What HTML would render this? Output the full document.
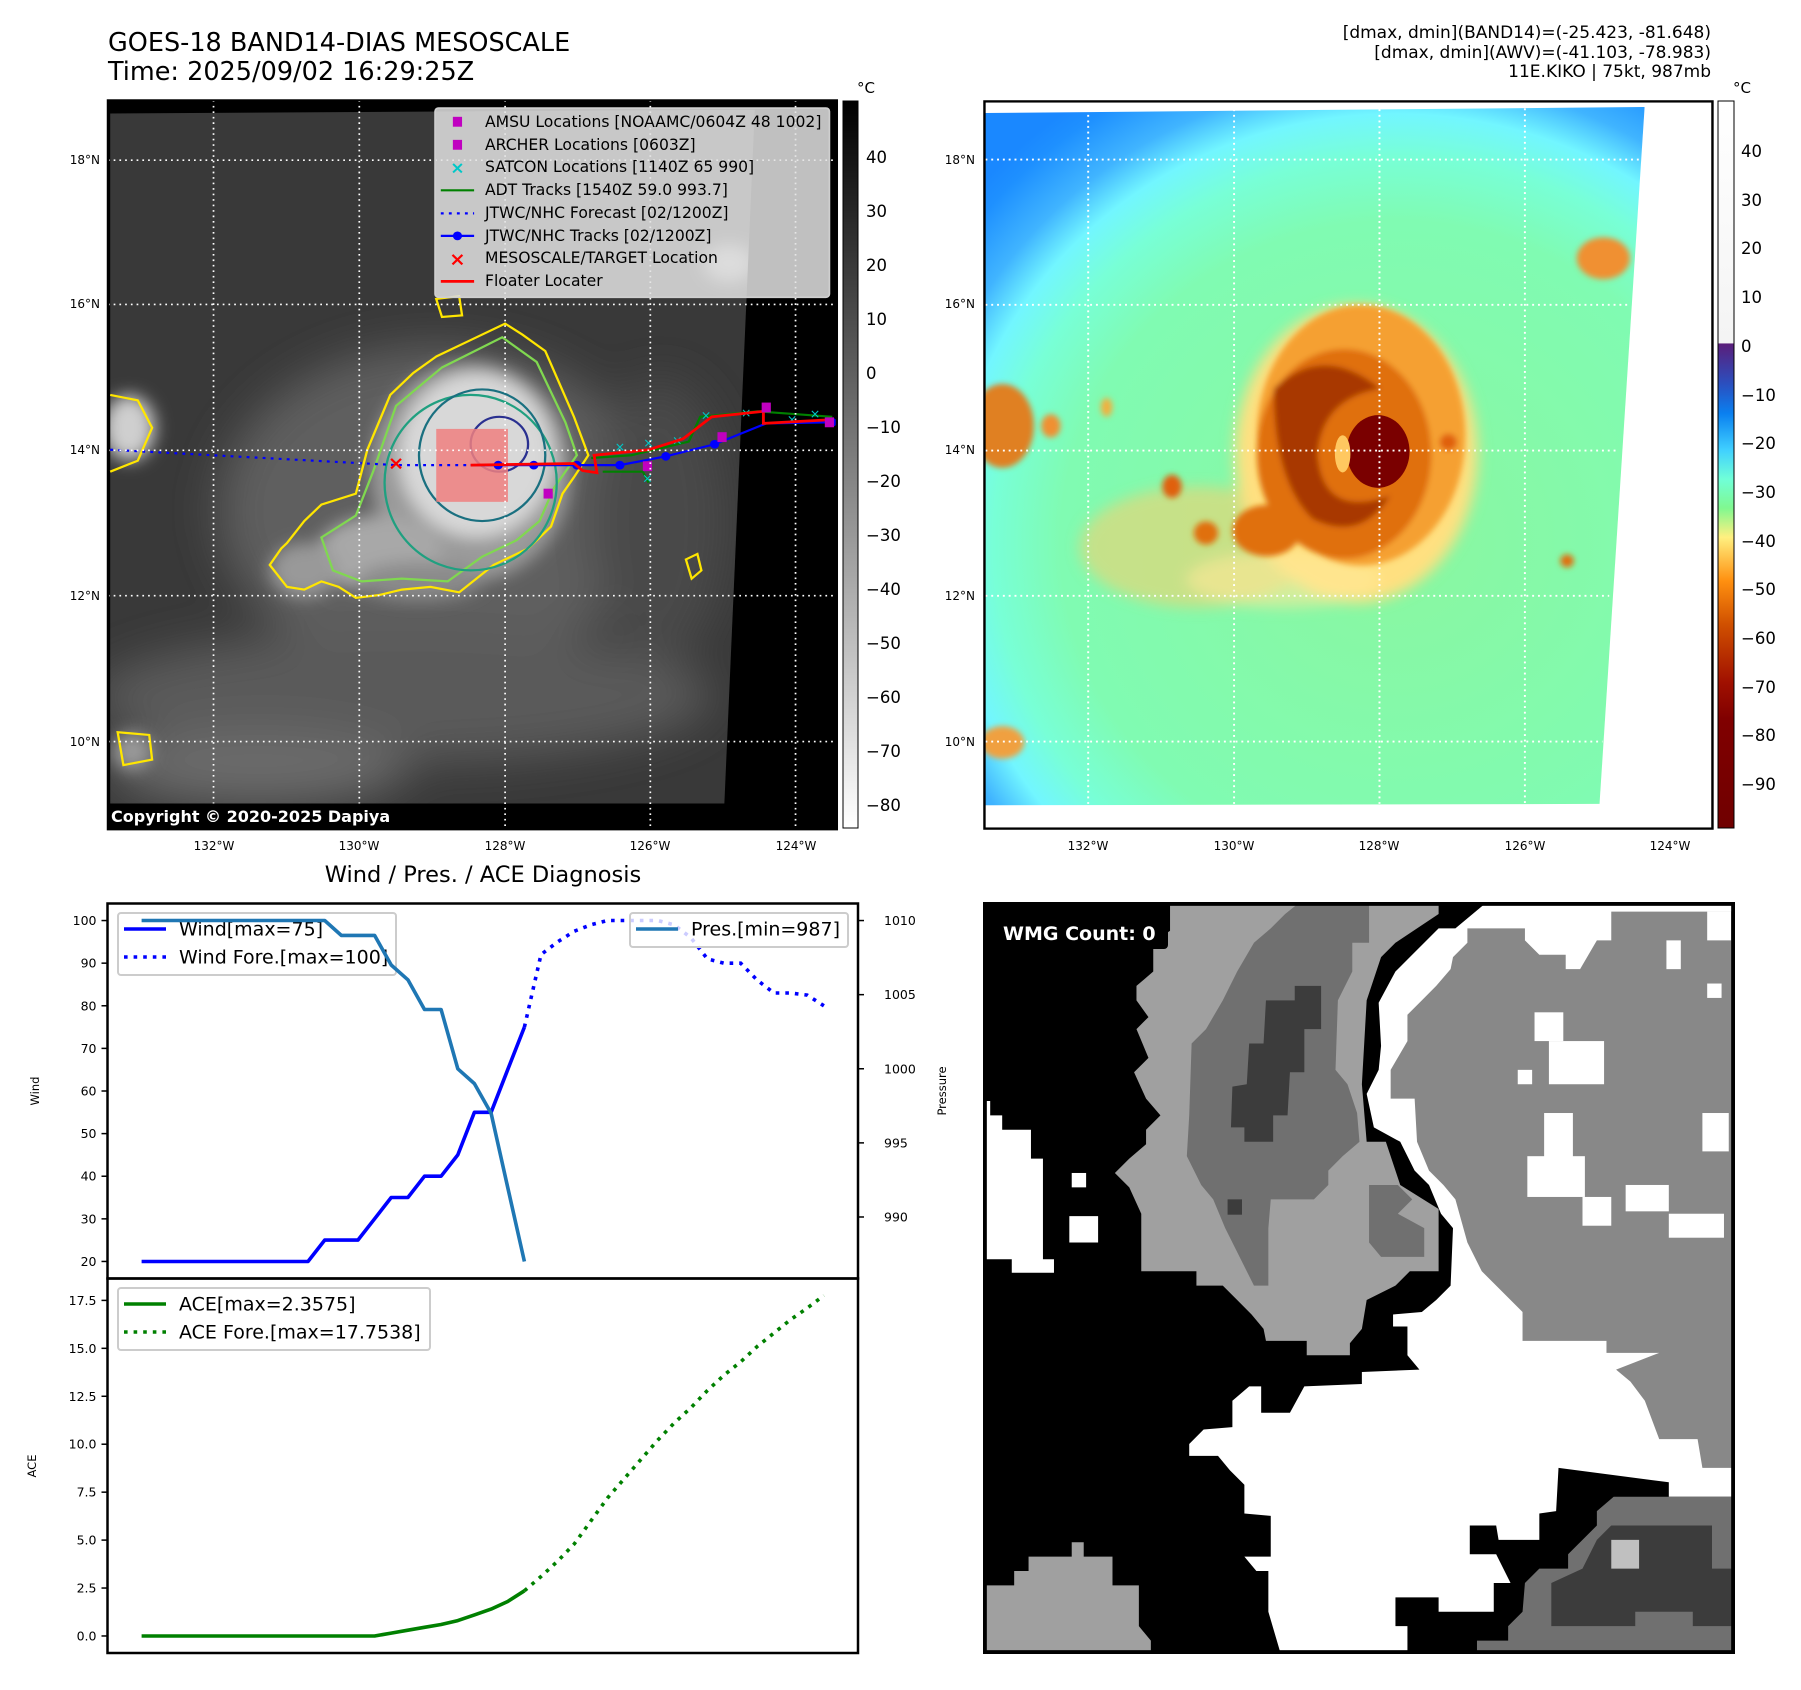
<!DOCTYPE html>
<html><head><meta charset="utf-8"><title>GOES-18 BAND14 mesoscale imagery and wind, pressure and ACE diagnosis</title>
<style>
html,body{margin:0;padding:0;background:#fff;}
svg{display:block;font-family:"DejaVu Sans","Liberation Sans",sans-serif;}
</style></head>
<body>
<svg id="root" width="1801" height="1690" viewBox="0 0 1801 1690" xmlns="http://www.w3.org/2000/svg">
<defs>
  <filter id="b40" x="-50%" y="-50%" width="200%" height="200%"><feGaussianBlur stdDeviation="40"/></filter>
  <filter id="b15" x="-50%" y="-50%" width="200%" height="200%"><feGaussianBlur stdDeviation="15"/></filter>
  <filter id="b6" x="-50%" y="-50%" width="200%" height="200%"><feGaussianBlur stdDeviation="6"/></filter>
  <clipPath id="clipL"><rect x="188" y="183" width="1270" height="1329"/></clipPath>
  <clipPath id="clipLS"><polygon points="192,207 1315,200 1262,1465 192,1465"/></clipPath>
  <clipPath id="clipR"><polygon points="5,28 1365,15 1272,1512 5,1515"/></clipPath>
  <radialGradient id="bgR" gradientUnits="userSpaceOnUse" cx="850" cy="950" r="1150">
    <stop offset="0" stop-color="#8af7a0"/>
    <stop offset="0.6" stop-color="#80fbb2"/>
    <stop offset="0.72" stop-color="#78ffd6"/>
    <stop offset="0.8" stop-color="#72f6ff"/>
    <stop offset="0.87" stop-color="#40b4ff"/>
    <stop offset="0.96" stop-color="#1e90ff"/>
    <stop offset="1" stop-color="#1a88ff"/>
  </radialGradient>
  <linearGradient id="cbL" x1="0" y1="0" x2="0" y2="1">
    <stop offset="0" stop-color="#000"/><stop offset="1" stop-color="#fff"/>
  </linearGradient>
  <linearGradient id="cbR" x1="0" y1="0" x2="0" y2="1">
    <stop offset="0" stop-color="#ffffff"/>
    <stop offset="0.333" stop-color="#f4f4f4"/>
    <stop offset="0.334" stop-color="#5a1e7a"/>
    <stop offset="0.39" stop-color="#2a50c0"/>
    <stop offset="0.43" stop-color="#0a80f0"/>
    <stop offset="0.48" stop-color="#40d0ff"/>
    <stop offset="0.52" stop-color="#70ffd8"/>
    <stop offset="0.56" stop-color="#80f890"/>
    <stop offset="0.6" stop-color="#fff080"/>
    <stop offset="0.66" stop-color="#ff9010"/>
    <stop offset="0.72" stop-color="#d05000"/>
    <stop offset="0.8" stop-color="#a01000"/>
    <stop offset="0.85" stop-color="#800000"/>
    <stop offset="1" stop-color="#700000"/>
  </linearGradient>
</defs>

<!-- Titles -->
<text x="108" y="51" font-size="25.5">GOES-18 BAND14-DIAS MESOSCALE</text>
<text x="108" y="80" font-size="25.5">Time: 2025/09/02 16:29:25Z</text>
<g font-size="17" text-anchor="end">
  <text x="1711" y="38">[dmax, dmin](BAND14)=(-25.423, -81.648)</text>
  <text x="1711" y="58">[dmax, dmin](AWV)=(-41.103, -78.983)</text>
  <text x="1711" y="77">11E.KIKO | 75kt, 987mb</text>
</g>

<!-- LEFT MAP (zoom coords) -->
<svg x="0" y="0" width="900" height="860" viewBox="0 0 1568 1568" preserveAspectRatio="none">
  <rect x="188" y="183" width="1270" height="1329" fill="#000"/>
  <g clip-path="url(#clipL)">
    <polygon points="192,207 1315,200 1262,1465 192,1465" fill="#393939"/>
    <g clip-path="url(#clipLS)">
      <g filter="url(#b40)">
        <ellipse cx="760" cy="930" rx="380" ry="300" fill="#5e5e5e"/>
        <ellipse cx="700" cy="1270" rx="540" ry="120" fill="#5a5a5a"/>
        <ellipse cx="450" cy="1400" rx="260" ry="70" fill="#6a6a6a"/>
        <ellipse cx="1150" cy="950" rx="120" ry="260" fill="#4a4a4a"/>
      </g>
      <g filter="url(#b15)">
        <ellipse cx="820" cy="860" rx="175" ry="200" fill="#9a9a9a"/>
        <ellipse cx="830" cy="830" rx="135" ry="150" fill="#d8d8d8"/>
        <ellipse cx="660" cy="1010" rx="110" ry="70" fill="#a8a8a8"/>
        <ellipse cx="530" cy="1040" rx="60" ry="50" fill="#999"/>
        <ellipse cx="730" cy="1060" rx="110" ry="35" fill="#8a8a8a"/>
        <ellipse cx="225" cy="780" rx="45" ry="60" fill="#cfcfcf"/>
        <ellipse cx="1270" cy="480" rx="45" ry="35" fill="#bbb"/>
        <ellipse cx="230" cy="1370" rx="35" ry="35" fill="#999"/>
      </g>
    </g>
    <!-- contours -->
    <path d="M760,650 L820,620 L880,590 L910,610 L950,640 L975,700 L1000,760 L1025,830 L1000,870 L980,900 L960,960 L920,1000 L860,1030 L800,1080 L750,1070 L700,1075 L660,1085 L620,1090 L590,1070 L560,1060 L530,1075 L500,1070 L470,1030 L490,1000 L500,990 L530,950 L560,920 L620,900 L630,860 L640,820 L660,770 L680,720 L720,680 Z" fill="none" stroke="#ffe600" stroke-width="4"/>
    <path d="M770,670 L875,615 L935,660 L985,770 L1005,830 L965,890 L940,950 L900,985 L840,1015 L780,1060 L700,1055 L630,1060 L580,1040 L560,980 L620,940 L650,860 L690,740 Z" fill="none" stroke="#80d850" stroke-width="4"/>
    <ellipse cx="820" cy="880" rx="150" ry="160" fill="none" stroke="#20a080" stroke-width="4"/>
    <ellipse cx="840" cy="830" rx="110" ry="120" fill="none" stroke="#1a7080" stroke-width="4"/>
    <ellipse cx="870" cy="810" rx="50" ry="50" fill="none" stroke="#2a3090" stroke-width="4"/>
    <path d="M192,720 L240,730 L265,780 L240,840 L192,860" fill="none" stroke="#ffe600" stroke-width="4"/>
    <path d="M1195,1020 L1215,1010 L1222,1040 L1205,1055 Z" fill="none" stroke="#ffe600" stroke-width="4"/>
    <path d="M760,545 L800,540 L805,575 L770,578 Z" fill="none" stroke="#ffe600" stroke-width="4"/>
    <path d="M205,1335 L260,1340 L265,1385 L215,1395 Z" fill="none" stroke="#ffe600" stroke-width="4"/>
    <!-- pink target box -->
    <rect x="760" y="782" width="125" height="133" fill="#f08080" opacity="0.85"/>
    <!-- tracks -->
    <polyline points="192,820 690,848 820,848" fill="none" stroke="#0000ff" stroke-width="4" stroke-dasharray="5 9"/>
    <polyline points="1030,835 1100,830 1200,805 1220,760 1320,750 1450,760" fill="none" stroke="#008000" stroke-width="4"/>
    <polyline points="1050,860 1120,860 1130,880" fill="none" stroke="#008000" stroke-width="4"/>
    <g fill="#00c8c8" font-size="22" text-anchor="middle">
      <text x="1080" y="822">×</text><text x="1130" y="815">×</text><text x="1180" y="810">×</text><text x="1230" y="765">×</text><text x="1300" y="760">×</text><text x="1380" y="772">×</text><text x="1420" y="762">×</text><text x="1128" y="880">×</text>
    </g>
    <polyline points="820,848 1005,848 1080,848 1160,832 1245,810 1335,772 1450,770" fill="none" stroke="#0000ff" stroke-width="4"/>
    <g fill="#0000ff"><circle cx="930" cy="848" r="8"/><circle cx="1005" cy="848" r="8"/><circle cx="1080" cy="848" r="8"/><circle cx="1160" cy="832" r="8"/><circle cx="1245" cy="810" r="8"/><circle cx="1450" cy="770" r="8"/><circle cx="868" cy="848" r="8"/></g>
    <polyline points="820,848 1000,845 1015,858 1040,862 1035,830 1130,820 1190,800 1240,760 1330,750 1330,772 1450,765" fill="none" stroke="#ff0000" stroke-width="5"/>
    <g fill="#c000c0"><rect x="947" y="891" width="16" height="18"/><rect x="1120" y="841" width="16" height="18"/><rect x="1250" y="788" width="16" height="18"/><rect x="1327" y="734" width="16" height="18"/><rect x="1437" y="761" width="16" height="18"/></g>
    <text x="690" y="856" fill="#ff0000" font-size="34" font-weight="bold" text-anchor="middle">×</text>
    <!-- grid -->
    <g stroke="#fff" stroke-width="3" stroke-dasharray="3 7">
      <line x1="372" y1="183" x2="372" y2="1512"/><line x1="626" y1="183" x2="626" y2="1512"/><line x1="880" y1="183" x2="880" y2="1512"/><line x1="1133" y1="183" x2="1133" y2="1512"/><line x1="1386" y1="183" x2="1386" y2="1512"/>
      <line x1="188" y1="292" x2="1458" y2="292"/><line x1="188" y1="555" x2="1458" y2="555"/><line x1="188" y1="821" x2="1458" y2="821"/><line x1="188" y1="1086" x2="1458" y2="1086"/><line x1="188" y1="1352" x2="1458" y2="1352"/>
    </g>
    <rect x="188" y="1465" width="537" height="47" fill="#000"/>
    <!-- legend box -->
    <rect x="758" y="197" width="687" height="345" rx="6" fill="#e2e2e2" fill-opacity="0.85" stroke="#cfcfcf" stroke-width="3"/>
    <rect x="789" y="213" width="16" height="18" fill="#c000c0"/>
    <rect x="789" y="255" width="16" height="18" fill="#c000c0"/>
    <text x="797" y="316" fill="#00c8c8" font-size="30" font-weight="bold" text-anchor="middle">×</text>
    <line x1="768" y1="347" x2="826" y2="347" stroke="#008000" stroke-width="4"/>
    <line x1="768" y1="389" x2="826" y2="389" stroke="#0000ff" stroke-width="4" stroke-dasharray="5 9"/>
    <line x1="768" y1="430" x2="826" y2="430" stroke="#0000ff" stroke-width="4"/><circle cx="797" cy="430" r="8" fill="#0000ff"/>
    <text x="797" y="484" fill="#ff0000" font-size="34" font-weight="bold" text-anchor="middle">×</text>
    <line x1="768" y1="513" x2="826" y2="513" stroke="#ff0000" stroke-width="5"/>
  </g>
  <rect x="188" y="183" width="1270" height="1329" fill="none" stroke="#000" stroke-width="4"/>
</svg>
<g font-size="15.6">
  <text x="485" y="127">AMSU Locations [NOAAMC/0604Z 48 1002]</text>
  <text x="485" y="150">ARCHER Locations [0603Z]</text>
  <text x="485" y="172">SATCON Locations [1140Z 65 990]</text>
  <text x="485" y="195">ADT Tracks [1540Z 59.0 993.7]</text>
  <text x="485" y="218">JTWC/NHC Forecast [02/1200Z]</text>
  <text x="485" y="241">JTWC/NHC Tracks [02/1200Z]</text>
  <text x="485" y="263">MESOSCALE/TARGET Location</text>
  <text x="485" y="286">Floater Locater</text>
</g>
<text x="111" y="822" fill="#fff" font-size="16" font-weight="bold">Copyright © 2020-2025 Dapiya</text>
<g font-size="12" text-anchor="end">
  <text x="100" y="164">18°N</text><text x="100" y="308">16°N</text><text x="100" y="454">14°N</text><text x="100" y="600">12°N</text><text x="100" y="746">10°N</text>
</g>
<g font-size="12" text-anchor="middle">
  <text x="214" y="850">132°W</text><text x="359" y="850">130°W</text><text x="505" y="850">128°W</text><text x="650" y="850">126°W</text><text x="796" y="850">124°W</text>
</g>
<!-- left colorbar -->
<rect x="843" y="101" width="15" height="727" fill="url(#cbL)" stroke="#000" stroke-width="1"/>
<text x="857" y="93" font-size="15">°C</text>
<g font-size="16.5">
  <text x="866" y="163">40</text><text x="866" y="217">30</text><text x="866" y="271">20</text><text x="866" y="325">10</text><text x="866" y="379">0</text><text x="866" y="433">−10</text><text x="866" y="487">−20</text><text x="866" y="541">−30</text><text x="866" y="595">−40</text><text x="866" y="649">−50</text><text x="866" y="703">−60</text><text x="866" y="757">−70</text><text x="866" y="811">−80</text>
</g>

<!-- RIGHT MAP (zoom coords) -->
<svg x="983" y="100" width="760" height="730" viewBox="0 0 1568 1568" preserveAspectRatio="none">
  <g clip-path="url(#clipR)">
    <rect x="0" y="0" width="1568" height="1568" fill="url(#bgR)"/>
    <g filter="url(#b15)">
      <ellipse cx="440" cy="960" rx="240" ry="130" fill="#f4d070" opacity="0.6"/>
      <ellipse cx="770" cy="760" rx="250" ry="320" fill="#ffe080"/>
      <ellipse cx="620" cy="1030" rx="200" ry="60" fill="#ffe898" opacity="0.6"/>
    </g>
    <g filter="url(#b6)">
      <ellipse cx="780" cy="720" rx="215" ry="280" fill="#f5a030"/>
      <ellipse cx="745" cy="760" rx="180" ry="225" fill="#e07010"/>
      <path d="M600,620 Q700,520 820,620 Q700,640 690,760 Q700,900 840,850 Q780,950 680,900 Q600,820 600,620 Z" fill="#a83800"/>
      <ellipse cx="585" cy="925" rx="70" ry="55" fill="#e07010"/>
      <ellipse cx="40" cy="700" rx="65" ry="90" fill="#e08020"/>
      <ellipse cx="1280" cy="340" rx="55" ry="45" fill="#f09030"/>
      <ellipse cx="1205" cy="990" rx="14" ry="14" fill="#e07010"/>
      <ellipse cx="390" cy="830" rx="20" ry="25" fill="#e06010"/>
      <ellipse cx="460" cy="930" rx="25" ry="25" fill="#e07010"/>
      <ellipse cx="140" cy="700" rx="20" ry="25" fill="#f09030"/>
      <ellipse cx="255" cy="660" rx="12" ry="20" fill="#f0b040"/>
      <ellipse cx="40" cy="1380" rx="45" ry="35" fill="#f0a040"/>
      <ellipse cx="960" cy="735" rx="18" ry="18" fill="#e06010"/>
    </g>
    <ellipse cx="815" cy="755" rx="65" ry="78" fill="#7a0000"/>
    <ellipse cx="742" cy="760" rx="16" ry="40" fill="#ffc860"/>
  </g>
  <g stroke="#fff" stroke-width="4" stroke-dasharray="4 8">
    <line x1="217" y1="20" x2="217" y2="1515"/><line x1="518" y1="20" x2="518" y2="1515"/><line x1="818" y1="20" x2="818" y2="1515"/><line x1="1118" y1="18" x2="1118" y2="1515"/>
    <line x1="5" y1="128" x2="1355" y2="128"/><line x1="5" y1="440" x2="1335" y2="440"/><line x1="5" y1="753" x2="1310" y2="753"/><line x1="5" y1="1065" x2="1292" y2="1065"/><line x1="5" y1="1378" x2="1278" y2="1378"/>
  </g>
  <rect x="3" y="3" width="1502" height="1562" fill="none" stroke="#000" stroke-width="5"/>
</svg>
<g font-size="12" text-anchor="end">
  <text x="975" y="164">18°N</text><text x="975" y="308">16°N</text><text x="975" y="454">14°N</text><text x="975" y="600">12°N</text><text x="975" y="746">10°N</text>
</g>
<g font-size="12" text-anchor="middle">
  <text x="1088" y="850">132°W</text><text x="1234" y="850">130°W</text><text x="1379" y="850">128°W</text><text x="1525" y="850">126°W</text><text x="1670" y="850">124°W</text>
</g>
<rect x="1718" y="101" width="16" height="727" fill="url(#cbR)" stroke="#000" stroke-width="1"/>
<text x="1733" y="93" font-size="15">°C</text>
<g font-size="16.5">
  <text x="1741" y="157">40</text><text x="1741" y="206">30</text><text x="1741" y="254">20</text><text x="1741" y="303">10</text><text x="1741" y="352">0</text><text x="1741" y="401">−10</text><text x="1741" y="449">−20</text><text x="1741" y="498">−30</text><text x="1741" y="547">−40</text><text x="1741" y="595">−50</text><text x="1741" y="644">−60</text><text x="1741" y="693">−70</text><text x="1741" y="741">−80</text><text x="1741" y="790">−90</text>
</g>

<!-- WMG PANEL -->
<svg x="983" y="902" width="752" height="752" viewBox="0 0 1568 1568" preserveAspectRatio="none">
  <rect x="0" y="0" width="1568" height="1568" fill="#000"/>
  <polygon fill="#fff" points="985,55 1045,5 1565,5 1565,1240 1430,1240 1430,1210 1200,1180 1195,1270 1160,1275 1160,1330 1075,1330 1070,1300 1015,1300 1015,1360 1070,1360 1100,1420 1065,1420 1065,1480 950,1480 950,1450 860,1450 860,1510 885,1510 885,1565 620,1565 595,1480 595,1395 570,1395 545,1365 600,1365 600,1280 545,1275 545,1215 515,1185 490,1155 430,1155 430,1130 460,1100 520,1095 520,1040 555,1010 580,1010 580,1065 640,1065 670,1010 790,1005 790,980 910,975 885,945 885,885 855,885 855,860 915,855 945,830 975,800 980,680 955,650 930,590 900,560 870,500 815,470 800,400 825,350 830,300 825,210 860,145 890,115 920,85 950,55"/>
  <polygon fill="#888" points="1010,55 1130,55 1130,80 1160,110 1215,110 1215,140 1245,140 1280,80 1310,80 1310,20 1565,20 1565,1180 1500,1180 1490,1120 1410,1120 1380,1040 1350,1000 1320,975 1410,940 1300,940 1300,915 1125,915 1125,855 1070,800 1040,770 1010,710 985,620 960,590 930,560 905,500 900,410 850,410 850,350 885,290 885,235 915,205 945,175 975,140 980,115 1010,85"/>
  <g fill="#fff"><rect x="1150" y="230" width="60" height="60"/><rect x="1180" y="290" width="115" height="90"/><rect x="1170" y="440" width="60" height="120"/><rect x="1135" y="530" width="120" height="85"/><rect x="1115" y="350" width="30" height="30"/><rect x="1425" y="80" width="30" height="60"/><rect x="1510" y="20" width="50" height="60"/><rect x="1500" y="440" width="55" height="80"/><rect x="1340" y="590" width="90" height="55"/><rect x="1430" y="650" width="115" height="50"/><rect x="1510" y="170" width="30" height="30"/><rect x="1250" y="615" width="60" height="60"/></g>
  <polygon fill="#a0a0a0" points="390,5 950,5 950,25 860,85 830,115 800,205 790,380 800,500 840,500 870,590 950,640 950,770 890,770 860,800 800,830 790,890 765,920 765,945 675,945 675,915 590,915 585,890 560,860 530,830 500,800 445,800 445,770 330,770 330,650 305,595 275,565 305,535 340,505 340,475 370,445 340,410 315,355 345,325 320,265 345,240 320,205 320,175 355,145 355,85 390,60"/>
  <polygon fill="#707070" points="655,5 805,5 805,85 770,85 770,145 740,205 735,350 760,380 780,440 785,500 750,530 720,560 720,590 690,620 600,620 595,680 595,800 565,800 535,740 505,680 480,620 455,590 425,530 430,445 435,295 465,265 500,205 530,145 565,85 600,55 630,25"/>
  <polygon fill="#3c3c3c" points="650,175 705,175 705,265 670,265 670,355 640,355 635,445 605,445 605,500 545,500 545,470 517,470 520,385 550,380 555,295 585,295 590,205 650,205"/>
  <polygon fill="#707070" points="805,590 865,590 895,620 865,650 920,680 920,740 830,740 805,710"/>
  <rect x="510" y="620" width="30" height="32" fill="#3c3c3c"/>
  <polygon fill="#fff" points="5,415 15,415 15,445 40,445 40,475 100,475 100,535 125,535 125,745 148,745 148,773 60,773 60,745 5,745"/>
  <rect x="185" y="565" width="30" height="30" fill="#fff"/><rect x="180" y="655" width="60" height="55" fill="#fff"/>
  <polygon fill="#a0a0a0" points="5,1425 65,1425 65,1395 95,1395 95,1365 185,1365 185,1335 210,1335 210,1365 270,1365 270,1425 325,1425 325,1510 350,1540 350,1565 5,1565"/>
  <polygon fill="#707070" points="1130,1420 1160,1390 1220,1390 1220,1360 1250,1330 1280,1300 1280,1270 1315,1240 1565,1240 1565,1565 1030,1565 1030,1540 1095,1540 1095,1510 1125,1480"/>
  <polygon fill="#3c3c3c" points="1185,1420 1250,1390 1280,1330 1310,1300 1520,1300 1520,1390 1565,1390 1565,1510 1480,1510 1480,1480 1360,1480 1360,1510 1185,1510"/>
  <rect x="1310" y="1330" width="58" height="60" fill="#c0c0c0"/>
  <rect x="4" y="4" width="1560" height="1560" fill="none" stroke="#000" stroke-width="8"/>
</svg>
<rect x="988" y="917" width="180" height="32" rx="4" fill="#000"/>
<text x="1003" y="940" fill="#fff" font-size="19" font-weight="bold">WMG Count: 0</text>

<!-- CHART -->
<g id="chart"></g>

<script>
const windIdx = [0,1,2,3,4,5,6,7,8,9,10,11,12,13,14,15,16,17,18,19,20,21,22,23];
const windObs = [20,20,20,20,20,20,20,20,20,20,20,25,25,25,30,35,35,40,40,45,55,55,65,75];
const foreIdx = [23,24,25,26,27,28,29,30,31,32,33,34,35,36,37,38,39,40,41];
const windFore = [75,92,95,97.5,99,100,100,100,100,99,96,91,90,90,86,83,83,82.5,80];
const presObs = [1010,1010,1010,1010,1010,1010,1010,1010,1010,1010,1010,1010,1009,1009,1009,1007,1006,1004,1004,1000,999,997,992,987];
const aceObs = [0,0,0,0,0,0,0,0,0,0,0,0,0,0,0,0.15,0.3,0.45,0.6,0.8,1.1,1.4,1.8,2.3575];
const aceFore = [2.3575,3.1,3.9,4.8,6.0,7.2,8.2,9.2,10.2,11.1,11.9,12.8,13.6,14.3,15.1,15.8,16.5,17.1,17.7538];
const windTicks = [20,30,40,50,60,70,80,90,100];
const presTicks = [990,995,1000,1005,1010];
const aceTicks = [0,2.5,5,7.5,10,12.5,15,17.5];
const aceTickLabels = ["0.0","2.5","5.0","7.5","10.0","12.5","15.0","17.5"];

const NS = "http://www.w3.org/2000/svg";
const chart = document.getElementById("chart");
const AX = {x0:107.5, x1:858, yTop:903.5, yMid:1278.5, yBot:1653};
function rng(a){return [Math.min.apply(null,a),Math.max.apply(null,a)];}
const allIdx = windIdx.concat(foreIdx);
const xr = rng(allIdx), xm = (xr[1]-xr[0])*0.05;
const xLo = xr[0]-xm, xHi = xr[1]+xm;
function X(i){return AX.x0 + (i-xLo)/(xHi-xLo)*(AX.x1-AX.x0);}
const wr = rng(windObs.concat(windFore)), wm=(wr[1]-wr[0])*0.05;
function YW(v){return AX.yMid - (v-(wr[0]-wm))/((wr[1]+wm)-(wr[0]-wm))*(AX.yMid-AX.yTop);}
const pr = rng(presObs), pm=(pr[1]-pr[0])*0.05;
function YP(v){return AX.yMid - (v-(pr[0]-pm))/((pr[1]+pm)-(pr[0]-pm))*(AX.yMid-AX.yTop);}
const ar = rng(aceObs.concat(aceFore)), am=(ar[1]-ar[0])*0.05;
function YA(v){return AX.yBot - (v-(ar[0]-am))/((ar[1]+am)-(ar[0]-am))*(AX.yBot-AX.yMid);}

function mk(tag, attrs, parent){
  const e=document.createElementNS(NS,tag);
  for(const k in attrs) e.setAttribute(k, attrs[k]);
  (parent||chart).appendChild(e); return e;
}
function poly(xs, ys, fx, fy){ return xs.map((x,i)=>fx(x).toFixed(1)+","+fy(ys[i]).toFixed(1)).join(" "); }

let t = mk("text",{x:483,y:882,"font-size":22.5,"text-anchor":"middle"});
t.textContent="Wind / Pres. / ACE Diagnosis";



windTicks.forEach(v=>{
  const y=YW(v);
  const tk=mk("line",{x1:AX.x0-6,y1:y,x2:AX.x0,y2:y,stroke:"#000","stroke-width":1.5});
  
  
  const l=mk("text",{x:AX.x0-11,y:y+4.5,"font-size":12.5,"text-anchor":"end"});
  l.textContent=v;
  
  
});
presTicks.forEach(v=>{
  const y=YP(v);
  const tk=mk("line",{x1:AX.x1,y1:y,x2:AX.x1+6,y2:y,stroke:"#000","stroke-width":1.5});
  
  
  const l=mk("text",{x:AX.x1+26,y:y+4.5,"font-size":12.5});
  l.textContent=v;
  
  
});
aceTicks.forEach((v,i)=>{
  const y=YA(v);
  const tk=mk("line",{x1:AX.x0-6,y1:y,x2:AX.x0,y2:y,stroke:"#000","stroke-width":1.5});
  
  
  const l=mk("text",{x:AX.x0-11,y:y+4.5,"font-size":12.5,"text-anchor":"end"});
  l.textContent=aceTickLabels[i];
  
  
});
let yl=mk("text",{x:0,y:0,"font-size":11.5,"text-anchor":"middle",transform:"translate(39,1091) rotate(-90)"});
yl.textContent="Wind";


yl=mk("text",{x:0,y:0,"font-size":11.5,"text-anchor":"middle",transform:"translate(36,1466) rotate(-90)"});
yl.textContent="ACE";


yl=mk("text",{x:0,y:0,"font-size":11.5,"text-anchor":"middle",transform:"translate(946,1091) rotate(-90)"});
yl.textContent="Pressure";



let ln=mk("polyline",{points:poly(windIdx,windObs,X,YW),fill:"none",stroke:"#0000ff","stroke-width":3.6,"stroke-linejoin":"round"});


ln=mk("polyline",{points:poly(foreIdx,windFore,X,YW),fill:"none",stroke:"#0000ff","stroke-width":3.6,"stroke-dasharray":"3.6 6"});



function legend(x,y,w,h,items,name){
  const g=mk("g",{});
  
  
  mk("rect",{x:x,y:y,width:w,height:h,rx:3,fill:"#fff","fill-opacity":0.8,stroke:"#cccccc","stroke-width":2},g);
  items.forEach((it,i)=>{
    const yy=y+16+i*28;
    const a={x1:x+6,y1:yy,x2:x+48,y2:yy,stroke:it.c,"stroke-width":3.6};
    if(it.d) a["stroke-dasharray"]="3.6 6";
    mk("line",a,g);
    const tx=mk("text",{x:x+61,y:yy+6.5,"font-size":19},g);
    tx.textContent=it.t;
  });
}
legend(118,913,278,62,[{c:"#0000ff",t:"Wind[max=75]"},{c:"#0000ff",d:1,t:"Wind Fore.[max=100]"}],"wind-legend");

ln=mk("polyline",{points:poly(windIdx,presObs,X,YP),fill:"none",stroke:"#1f77b4","stroke-width":3.6,"stroke-linejoin":"round"});


legend(630,913,218,34,[{c:"#1f77b4",t:"Pres.[min=987]"}],"pressure-legend");

ln=mk("polyline",{points:poly(windIdx,aceObs,X,YA),fill:"none",stroke:"#008000","stroke-width":3.6,"stroke-linejoin":"round"});


ln=mk("polyline",{points:poly(foreIdx,aceFore,X,YA),fill:"none",stroke:"#008000","stroke-width":3.6,"stroke-dasharray":"3.6 6"});


legend(118,1288,312,62,[{c:"#008000",t:"ACE[max=2.3575]"},{c:"#008000",d:1,t:"ACE Fore.[max=17.7538]"}],"ace-legend");

let fr=mk("rect",{x:AX.x0,y:AX.yTop,width:AX.x1-AX.x0,height:AX.yMid-AX.yTop,fill:"none",stroke:"#000","stroke-width":2.5});


fr=mk("rect",{x:AX.x0,y:AX.yMid,width:AX.x1-AX.x0,height:AX.yBot-AX.yMid,fill:"none",stroke:"#000","stroke-width":2.5});


</script>
</svg>
</body></html>
